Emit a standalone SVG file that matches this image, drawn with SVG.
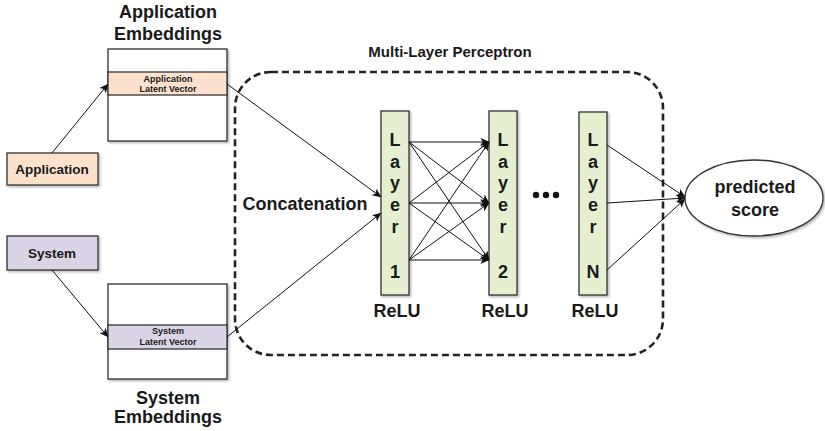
<svg xmlns="http://www.w3.org/2000/svg" width="825" height="431" viewBox="0 0 825 431">
<defs>
<style>
text{font-family:"Liberation Sans",Arial,sans-serif;font-weight:bold;fill:#1a1a1a;text-anchor:middle}
.t18{font-size:18px}
.t15{font-size:15px}
.t13{font-size:13.5px}
.t9{font-size:9px}
.box{stroke:#333;stroke-width:1.3}
.app{fill:#fce1cc}
.sys{fill:#dbd4e7}
.emb{fill:#fff}
.layer{fill:#e6efcf;stroke:#333;stroke-width:1.3}
.conn line{stroke:#111;stroke-width:1;marker-end:url(#arr)}
.mlp{fill:none;stroke:#222;stroke-width:2.6;stroke-dasharray:7,4}
</style>
<marker id="arr" viewBox="0 0 10 10" refX="9.5" refY="5" markerWidth="9" markerHeight="9" markerUnits="userSpaceOnUse" orient="auto">
<path d="M0,0.5 L10,5 L0,9.5 L2.5,5 z" fill="#111"/>
</marker>
<filter id="sh" x="-10%" y="-10%" width="130%" height="130%">
<feDropShadow dx="1.5" dy="1.5" stdDeviation="1" flood-color="#000" flood-opacity="0.3"/>
</filter>
</defs>
<rect width="825" height="431" fill="#fff"/>

<g id="mlp-frame">
<rect class="mlp" x="235" y="72" width="428" height="283" rx="36" ry="36"/>
<text class="t15" x="450" y="57">Multi-Layer Perceptron</text>
<text class="t18" x="305" y="210">Concatenation</text>
</g>

<g id="application-embeddings">
<text class="t18" x="168" y="18">Application</text>
<text class="t18" x="168" y="40">Embeddings</text>
<rect class="box emb" x="108" y="49" width="119" height="92" filter="url(#sh)"/>
<rect class="box app" x="108" y="72" width="119" height="23"/>
<text class="t9" x="168" y="82">Application</text>
<text class="t9" x="168" y="92">Latent Vector</text>
</g>

<g id="system-embeddings">
<rect class="box emb" x="108" y="284" width="119" height="95" filter="url(#sh)"/>
<rect class="box sys" x="108" y="325" width="119" height="24"/>
<text class="t9" x="168" y="334">System</text>
<text class="t9" x="168" y="345">Latent Vector</text>
<text class="t18" x="168" y="404">System</text>
<text class="t18" x="168" y="423">Embeddings</text>
</g>

<g id="application">
<rect class="box app" x="7" y="153" width="91" height="32" filter="url(#sh)"/>
<text class="t13" x="52" y="174">Application</text>
</g>

<g id="system">
<rect class="box sys" x="7" y="236" width="91" height="34" filter="url(#sh)"/>
<text class="t13" x="52" y="258">System</text>
</g>

<g id="layer1">
<rect class="layer" x="381" y="111" width="28" height="184" filter="url(#sh)"/>
<text class="t18" x="395" y="146">L</text>
<text class="t18" x="395" y="168">a</text>
<text class="t18" x="395" y="189">y</text>
<text class="t18" x="395" y="211">e</text>
<text class="t18" x="395" y="233">r</text>
<text class="t18" x="395" y="278">1</text>
<text class="t18" x="397" y="317">ReLU</text>
</g>

<g id="layer2">
<rect class="layer" x="489" y="111" width="28" height="184" filter="url(#sh)"/>
<text class="t18" x="503" y="146">L</text>
<text class="t18" x="503" y="168">a</text>
<text class="t18" x="503" y="189">y</text>
<text class="t18" x="503" y="211">e</text>
<text class="t18" x="503" y="233">r</text>
<text class="t18" x="503" y="278">2</text>
<text class="t18" x="505" y="317">ReLU</text>
</g>

<g id="dots">
<circle cx="536" cy="195" r="3.2" fill="#111"/>
<circle cx="546" cy="195" r="3.2" fill="#111"/>
<circle cx="556" cy="195" r="3.2" fill="#111"/>
</g>

<g id="layerN">
<rect class="layer" x="579" y="112" width="28" height="183" filter="url(#sh)"/>
<text class="t18" x="593" y="146">L</text>
<text class="t18" x="593" y="168">a</text>
<text class="t18" x="593" y="189">y</text>
<text class="t18" x="593" y="211">e</text>
<text class="t18" x="593" y="233">r</text>
<text class="t18" x="593" y="278">N</text>
<text class="t18" x="595" y="317">ReLU</text>
</g>

<g id="predicted-score">
<ellipse cx="754" cy="198" rx="69" ry="38" fill="#fff" stroke="#333" stroke-width="1.3" filter="url(#sh)"/>
<text class="t18" x="755" y="193">predicted</text>
<text class="t18" x="755" y="216">score</text>
</g>

<g id="connectors" class="conn">
<line x1="52" y1="153" x2="108" y2="84"/>
<line x1="52" y1="270" x2="108" y2="337"/>
<line x1="227" y1="84" x2="381" y2="197"/>
<line x1="227" y1="337" x2="381" y2="213"/>
<line x1="409" y1="142" x2="489" y2="142"/>
<line x1="409" y1="142" x2="489" y2="203"/>
<line x1="409" y1="142" x2="489" y2="260"/>
<line x1="409" y1="203" x2="489" y2="142"/>
<line x1="409" y1="203" x2="489" y2="203"/>
<line x1="409" y1="203" x2="489" y2="260"/>
<line x1="409" y1="260" x2="489" y2="142"/>
<line x1="409" y1="260" x2="489" y2="203"/>
<line x1="409" y1="260" x2="489" y2="260"/>
<line x1="607" y1="145" x2="685" y2="197"/>
<line x1="607" y1="203" x2="685" y2="198"/>
<line x1="607" y1="270" x2="685" y2="199"/>
</g>
</svg>
